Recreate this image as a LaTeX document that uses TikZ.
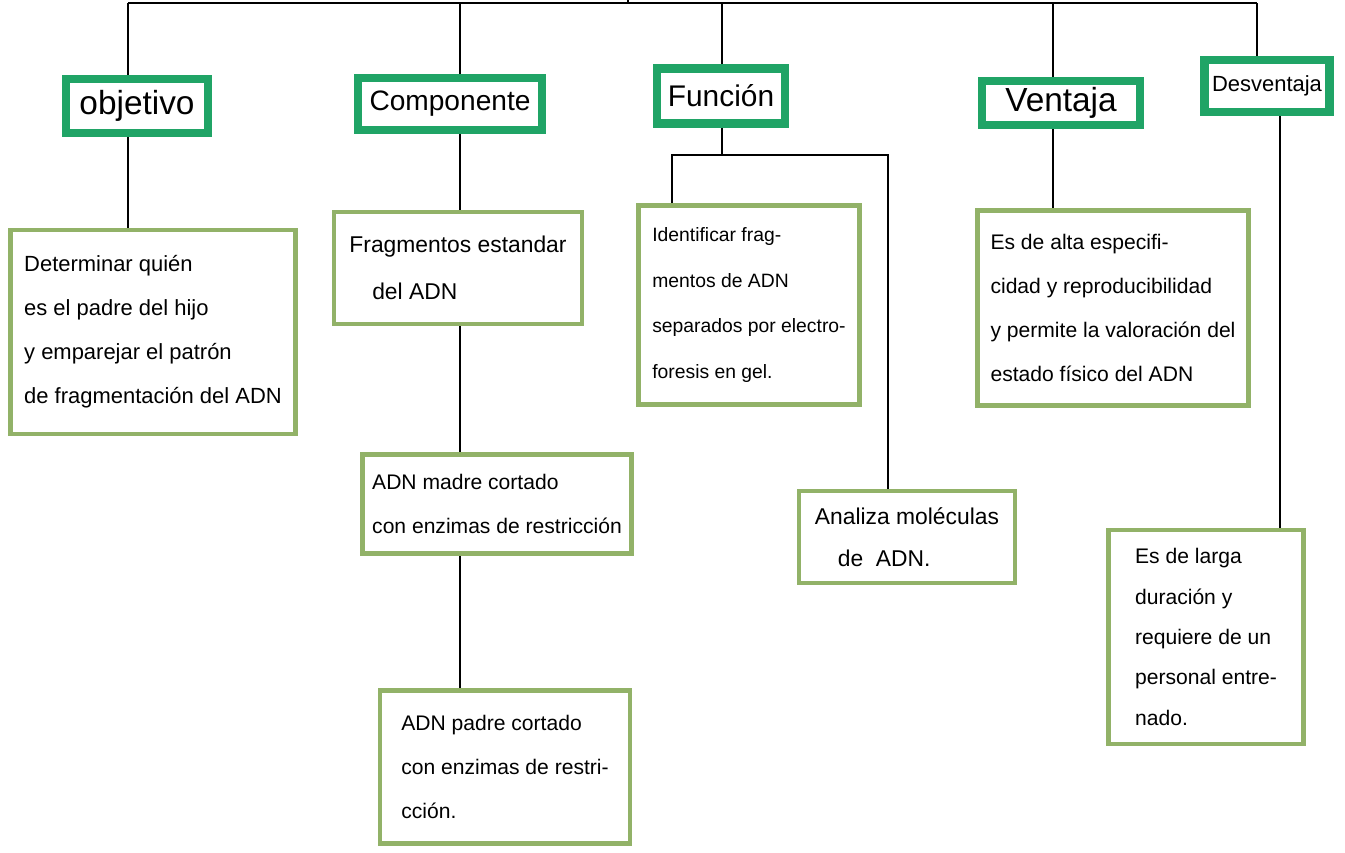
\documentclass[tikz,border=0pt]{standalone}
\usepackage{fontspec}
\setmainfont{Liberation Sans}
\definecolor{headgreen}{RGB}{32,164,102}
\definecolor{leafgreen}{RGB}{146,178,104}
\begin{document}
\begin{tikzpicture}[x=0.02cm, y=-0.02cm, line width=1.1pt,
        headbox/.style={draw=headgreen, line width=5pt, fill=white, font=\fontsize{16}{18}\selectfont},
        leafbox/.style={draw=leafgreen, line width=2.6pt, fill=white, align=left, font=\fontsize{12}{25}\selectfont}]

        \useasboundingbox (0, 0) rectangle (1345, 852);

        \node (1-1) at (137, 106) [headbox, minimum width=2.84cm, minimum height=1.08cm, font=\fontsize{19}{21}\selectfont] {objetivo};
        \node (1-2) at (450, 104) [headbox, minimum width=3.68cm, minimum height=1.04cm] {Componente};
        \node (1-3) at (721, 96) [headbox, minimum width=2.56cm, minimum height=1.1cm, font=\fontsize{17}{19}\selectfont] {Función};
        \node (1-4) at (1061, 103) [headbox, minimum width=3.16cm, minimum height=0.88cm, font=\fontsize{19}{21}\selectfont] {Ventaja};
        \node (1-5) at (1267, 86) [headbox, minimum width=2.5cm, minimum height=1.04cm, font=\fontsize{12.5}{15}\selectfont] {Desventaja};

        \node (2-1) at (153, 332) [leafbox, minimum width=5.7cm, minimum height=4.08cm, font=\fontsize{12.5}{25}\selectfont] {Determinar quién\\es el padre del hijo\\y emparejar el patrón\\de fragmentación del ADN};
        \node (2-2) at (458, 268) [leafbox, minimum width=4.96cm, minimum height=2.24cm, font=\fontsize{13}{27}\selectfont] {Fragmentos estandar\\\quad del ADN};
        \node (2-3) at (749, 305) [leafbox, minimum width=4.42cm, minimum height=3.98cm, font=\fontsize{11}{26}\selectfont] {Identificar frag-\\mentos de ADN\\separados por electro-\\foresis en gel.};
        \node (2-4) at (1113, 308) [leafbox, minimum width=5.42cm, minimum height=3.9cm] {Es de alta especifi-\\cidad y reproducibilidad\\y permite la valoración del\\estado físico del ADN};
        \node (2-5) at (1206, 637) [leafbox, minimum width=3.9cm, minimum height=4.28cm, font=\fontsize{12}{23}\selectfont] {Es de larga\\duración y\\requiere de un\\personal entre-\\nado.};

        \node (3-2) at (497, 504) [leafbox, minimum width=5.38cm, minimum height=1.98cm] {ADN madre cortado\\con enzimas de restricción};
        \node (3-3) at (907, 537) [leafbox, minimum width=4.32cm, minimum height=1.84cm, font=\fontsize{13}{24}\selectfont] {Analiza moléculas\\\quad de \ ADN.};

        \node (4-2) at (505, 767) [leafbox, minimum width=5cm, minimum height=3.06cm] {ADN padre cortado\\con enzimas de restri-\\cción.};

        \coordinate (root) at (628, 0);
        \coordinate (top-1) at (128, 3);
        \coordinate (top-2) at (460, 3);
        \coordinate (top-3) at (722, 3);
        \coordinate (top-4) at (1053, 3);
        \coordinate (top-5) at (1257, 3);
        \coordinate (low-5) at (1280, 3);
        \coordinate (fl) at (672, 155);
        \coordinate (fr) at (888, 155);

        \draw (top-1) -- (top-5);
        \draw (root) -- (root |- top-1);

        \draw (top-1) -- (top-1 |- 1-1.north);
        \draw (top-2) -- (top-2 |- 1-2.north);
        \draw (top-3) -- (top-3 |- 1-3.north);
        \draw (top-4) -- (top-4 |- 1-4.north);
        \draw (top-5) -- (top-5 |- 1-5.north);

        \draw (1-1.south -| top-1) -- (2-1.north -| top-1);

        \draw (1-2.south -| top-2) -- (2-2.north -| top-2);
        \draw (2-2.south -| top-2) -- (3-2.north -| top-2);
        \draw (3-2.south -| top-2) -- (4-2.north -| top-2);

        \draw (1-3.south -| top-3) -- (top-3 |- fl);
        \draw (2-3.north -| fl) -- (fl) -- (fr) -- (3-3.north -| fr);

        \draw (1-4.south -| top-4) -- (2-4.north -| top-4);

        \draw (1-5.south -| low-5) -- (2-5.north -| low-5);

    \end{tikzpicture}
\end{document}
